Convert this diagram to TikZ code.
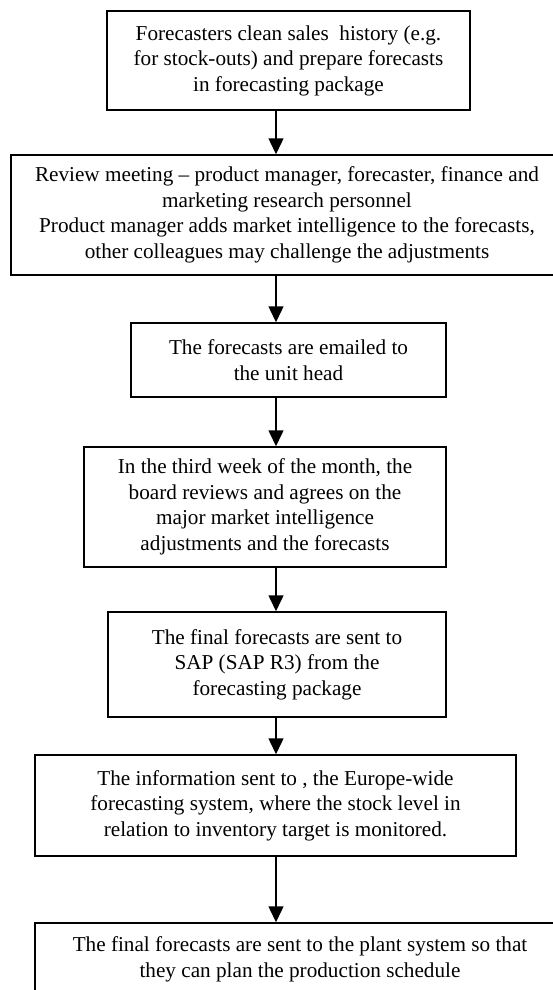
\documentclass[tikz,border=0pt]{standalone}
\usepackage{fontspec}
\setmainfont{Liberation Serif}
\usetikzlibrary{arrows.meta}

\begin{document}
\begin{tikzpicture}[
		x=1pt, y=1pt,
		font=\fontsize{21.2}{25.5}\selectfont,
		box/.style = {
			draw,
			line width=1.5pt,
			align=center,
			inner sep=0pt
		},
		flow/.style = {
			-{Triangle[width=15pt,length=16pt]},
			line width=1.5pt
		}
	]
	\useasboundingbox (0,0) rectangle (553,-990);
	\coordinate (axis) at (276,0);
	\node[box, minimum width=363pt, minimum height=99pt]  (clean)   at (288.5,-60.5) {Forecasters clean sales\ \ history (e.g.\\ for stock-outs) and prepare forecasts\\ in forecasting package};
	\node[box, minimum width=552pt, minimum height=120pt] (review)  at (287,-215)    {Review meeting -- product manager, forecaster, finance and\\ marketing research personnel\\ Product manager adds market intelligence to the forecasts,\\ other colleagues may challenge the adjustments};
	\node[box, minimum width=315pt, minimum height=74pt]  (email)   at (288.5,-360)  {The forecasts are emailed to\\ the unit head};
	\node[box, minimum width=362pt, minimum height=120pt] (board)   at (265,-507)    {In the third week of the month, the\\ board reviews and agrees on the\\ major market intelligence\\ adjustments and the forecasts};
	\node[box, minimum width=338pt, minimum height=105pt] (sap)     at (277,-664.5)  {The final forecasts are sent to\\ SAP (SAP R3) from the\\ forecasting package};
	\node[box, minimum width=481pt, minimum height=101pt] (europe)  at (275.5,-805.5) {The information sent to , the Europe-wide\\ forecasting system, where the stock level in\\ relation to inventory target is monitored.};
	\node[box, minimum width=530pt, minimum height=73pt]  (plant)   at (300,-959.5)  {The final forecasts are sent to the plant system so that\\ they can plan the production schedule};
	% arrows down the middle
	\foreach \a/\b in {clean/review, review/email, email/board, board/sap, sap/europe, europe/plant}
		\draw[flow] (\a.south -| axis) -- (\b.north -| axis);
\end{tikzpicture}
\end{document}
